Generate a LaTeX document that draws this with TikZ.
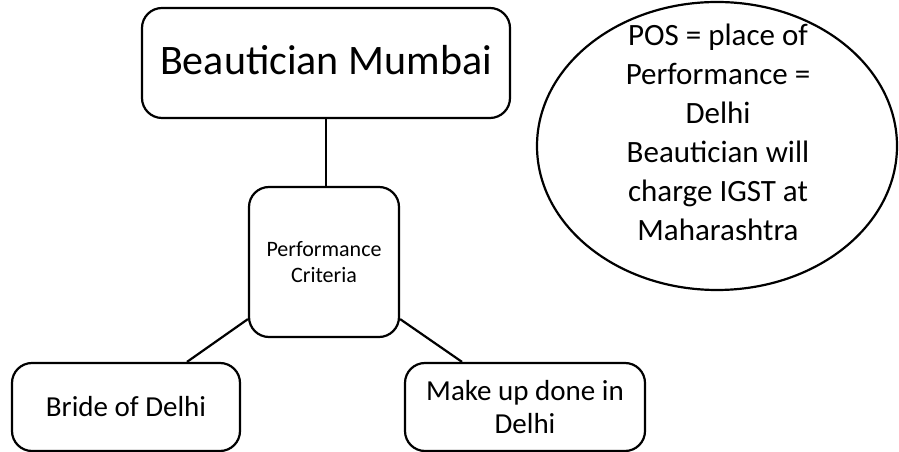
\documentclass[tikz,border=0pt]{standalone}
\usepackage{fontspec}
\setmainfont{Carlito}
\usetikzlibrary{shapes.geometric,calc}
\begin{document}
\begin{tikzpicture}[x=1pt,y=1pt,
  box/.style={draw,line width=2.2pt,rounded corners=20pt,inner sep=0pt,align=center},
  link/.style={line width=2.2pt}]
\useasboundingbox (0,0) rectangle (899,452);
% main boxes
\node[box,minimum width=368pt,minimum height=110pt,font=\fontsize{42}{50}\selectfont]
  (top) at (326,389) {\raisebox{6pt}{Beautician Mumbai}};
\node[box,minimum width=150pt,minimum height=150pt,font=\fontsize{22}{26}\selectfont]
  (mid) at (324,190) {Performance\\Criteria};
\node[box,minimum width=228pt,minimum height=88pt,font=\fontsize{29}{33}\selectfont]
  (bl) at (126,45) {Bride of Delhi};
\node[box,minimum width=240pt,minimum height=88pt,font=\fontsize{29}{33}\selectfont]
  (br) at (525,45) {Make up done in\\Delhi};
% note ellipse
\node[ellipse,draw,line width=2.2pt,minimum width=360pt,minimum height=288pt,inner sep=0pt]
  (note) at (717,306) {};
\node[align=center,font=\fontsize{31}{39}\selectfont,inner sep=0pt]
  (notetext) at (718,320) {POS = place of\\Performance =\\Delhi\\Beautician will\\charge IGST at\\Maharashtra};
% connectors
\draw[link] (top.south) -- (top.south |- mid.north);
\draw[link] ($(mid.south west)+(0,19)$) -- ($(bl.north)+(61,0)$);
\draw[link] ($(mid.south east)+(0,19)$) -- ($(br.north)+(-63,0)$);
\end{tikzpicture}
\end{document}
